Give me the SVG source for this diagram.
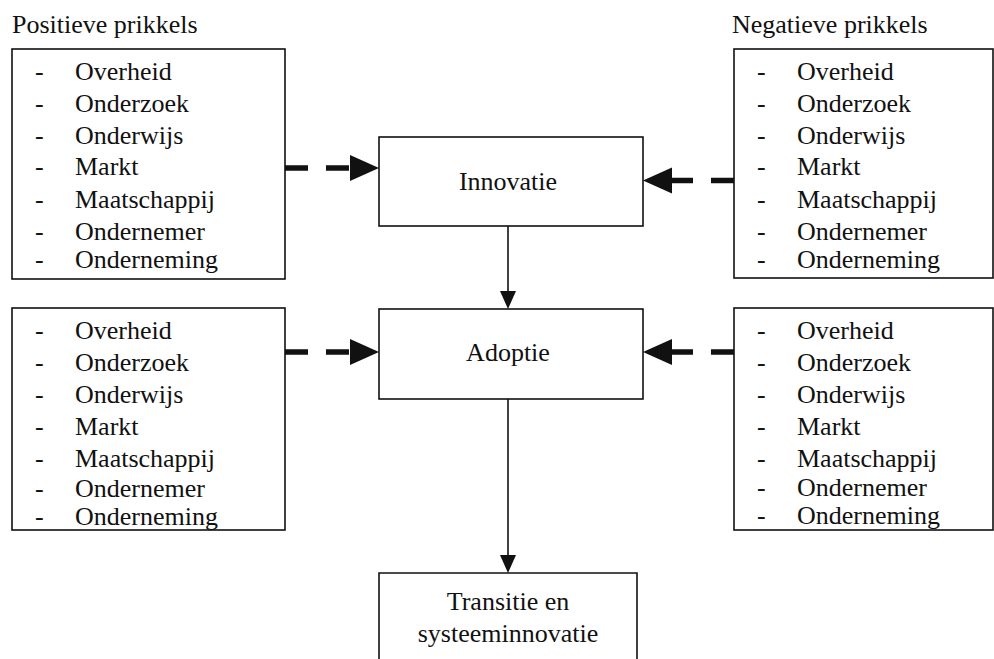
<svg xmlns="http://www.w3.org/2000/svg" width="994" height="659" viewBox="0 0 994 659">
<defs>
<style>
text{font-family:"Liberation Serif","Times New Roman",serif;fill:#111;}
.t{font-size:26px;}
.c{font-size:26px;text-anchor:middle;}
.box{fill:#fff;stroke:#111;stroke-width:1.6;}
.thin{stroke:#111;stroke-width:1.6;fill:none;}
.dash{stroke:#111;stroke-width:5.5;fill:none;stroke-dasharray:23 18;}
.head{fill:#111;}
</style>
</defs>
<rect width="994" height="659" fill="#fff"/>
<text class="t" x="12" y="33">Positieve prikkels</text>
<text class="t" x="732" y="33">Negatieve prikkels</text>

<g id="pos-innovatie">
<rect class="box" x="12" y="49" width="273" height="230"/>
<g class="t">
<text x="35" y="80">-</text><text x="75" y="80">Overheid</text>
<text x="35" y="112">-</text><text x="75" y="112">Onderzoek</text>
<text x="35" y="144">-</text><text x="75" y="144">Onderwijs</text>
<text x="35" y="175">-</text><text x="75" y="175">Markt</text>
<text x="35" y="208">-</text><text x="75" y="208">Maatschappij</text>
<text x="35" y="240">-</text><text x="75" y="240">Ondernemer</text>
<text x="35" y="268">-</text><text x="75" y="268">Onderneming</text>
</g>
</g>

<g id="neg-innovatie">
<rect class="box" x="734" y="49" width="259" height="229"/>
<g class="t">
<text x="757" y="80">-</text><text x="797" y="80">Overheid</text>
<text x="757" y="112">-</text><text x="797" y="112">Onderzoek</text>
<text x="757" y="144">-</text><text x="797" y="144">Onderwijs</text>
<text x="757" y="175">-</text><text x="797" y="175">Markt</text>
<text x="757" y="208">-</text><text x="797" y="208">Maatschappij</text>
<text x="757" y="240">-</text><text x="797" y="240">Ondernemer</text>
<text x="757" y="268">-</text><text x="797" y="268">Onderneming</text>
</g>
</g>

<g id="pos-adoptie">
<rect class="box" x="12" y="308" width="273" height="222"/>
<g class="t">
<text x="35" y="339">-</text><text x="75" y="339">Overheid</text>
<text x="35" y="371">-</text><text x="75" y="371">Onderzoek</text>
<text x="35" y="403">-</text><text x="75" y="403">Onderwijs</text>
<text x="35" y="435">-</text><text x="75" y="435">Markt</text>
<text x="35" y="467">-</text><text x="75" y="467">Maatschappij</text>
<text x="35" y="497">-</text><text x="75" y="497">Ondernemer</text>
<text x="35" y="525">-</text><text x="75" y="525">Onderneming</text>
</g>
</g>

<g id="neg-adoptie">
<rect class="box" x="734" y="308" width="259" height="222"/>
<g class="t">
<text x="757" y="339">-</text><text x="797" y="339">Overheid</text>
<text x="757" y="371">-</text><text x="797" y="371">Onderzoek</text>
<text x="757" y="403">-</text><text x="797" y="403">Onderwijs</text>
<text x="757" y="435">-</text><text x="797" y="435">Markt</text>
<text x="757" y="467">-</text><text x="797" y="467">Maatschappij</text>
<text x="757" y="496">-</text><text x="797" y="496">Ondernemer</text>
<text x="757" y="524">-</text><text x="797" y="524">Onderneming</text>
</g>
</g>

<g id="innovatie">
<rect class="box" x="379" y="137" width="264" height="89"/>
<text class="c" x="508" y="190">Innovatie</text>
</g>

<g id="adoptie">
<rect class="box" x="379" y="309" width="264" height="90"/>
<text class="c" x="508" y="361">Adoptie</text>
</g>

<g id="transitie">
<path class="box" d="M379 675 V573 H637 V675"/>
<text class="c" x="508" y="610">Transitie en</text>
<text class="c" x="508" y="642">systeeminnovatie</text>
</g>

<g id="connectors">
<line class="dash" x1="285" y1="168" x2="350" y2="168"/>
<polygon class="head" points="350,155 379,168 350,181"/>
<line class="dash" x1="734" y1="180.5" x2="672" y2="180.5"/>
<polygon class="head" points="672,167.5 643,180.5 672,193.5"/>
<line class="dash" x1="285" y1="352" x2="350" y2="352"/>
<polygon class="head" points="350,339 379,352 350,365"/>
<line class="dash" x1="734" y1="352" x2="672" y2="352"/>
<polygon class="head" points="672,339 643,352 672,365"/>
<line class="thin" x1="508" y1="226" x2="508" y2="292"/>
<polygon class="head" points="500,291 516,291 508,309"/>
<line class="thin" x1="508" y1="399" x2="508" y2="556"/>
<polygon class="head" points="500,555 516,555 508,573"/>
</g>
</svg>
